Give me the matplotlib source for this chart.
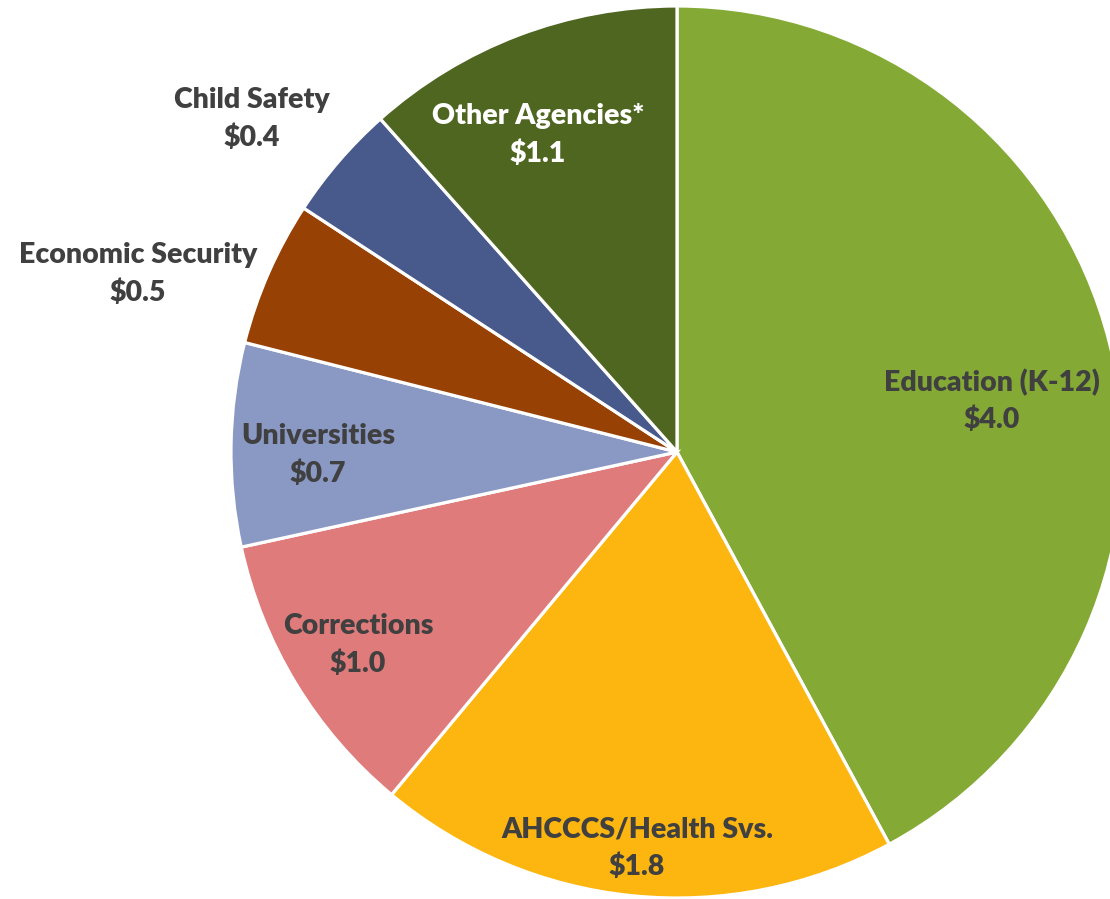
import numpy as np
from matplotlib import pyplot as plt

# data (billions)
agencies = ['Education (K-12)', 'AHCCCS/Health Svs.', 'Corrections',
            'Universities', 'Economic Security', 'Child Safety',
            'Other Agencies*']
amounts = [4.0, 1.8, 1.0, 0.7, 0.5, 0.4, 1.1]
colors = ['#84AA35', '#FDB60F', '#E07B7B', '#8A98C4', '#984104',
          '#475A8B', '#4F6621']

# label layout: pixel centres of each label block (from top-left)
label_pos = [(992, 401), (637, 848), (358, 645), (318, 455),
             (138, 274), (252, 119), (538, 135)]
label_col = ['#404040'] * 6 + ['white']

W, H = 1110, 899
fig = plt.figure(figsize=(W / 100, H / 100), dpi=100)
ax = fig.add_axes([0, 0, 1, 1])

cx, cy, r = 677, H - 452, 446
ax.pie(amounts, colors=colors, startangle=90, counterclock=False,
       center=(cx, cy), radius=r, frame=True,
       wedgeprops=dict(edgecolor='white', linewidth=2.3))
ax.set_xlim(0, W)
ax.set_ylim(0, H)
ax.set_aspect('equal')
ax.axis('off')

for name, val, (px, py), c in zip(agencies, amounts, label_pos, label_col):
    ax.text(px, H - py, '%s\n$%.1f' % (name, val), ha='center', va='center',
            fontsize=20.5, fontweight='heavy', family='Lato', color=c,
            linespacing=1.5)

fig.savefig('out.png', dpi=100)
